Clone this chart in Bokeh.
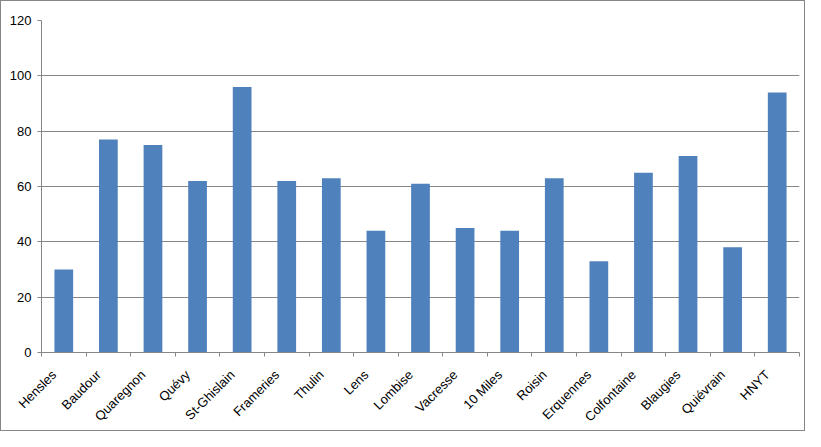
import numpy as np
from bokeh.plotting import figure
from bokeh.models import Range1d, FixedTicker, ColumnDataSource
from bokeh.embed import file_html
from bokeh.resources import INLINE

categories = ["Hensles", "Baudour", "Quaregnon", "Quévy", "St-Ghislain", "Frameries",
              "Thulin", "Lens", "Lombise", "Vacresse", "10 Miles", "Roisin",
              "Erquennes", "Colfontaine", "Blaugies", "Quiévrain", "HNYT"]
values = [30, 77, 75, 62, 96, 62, 63, 44, 61, 45, 44, 63, 33, 65, 71, 38, 94]
y_ticks = [0, 20, 40, 60, 80, 100, 120]

GRAY = "#868686"
FONT = "Liberation Sans"
LABEL_SHIFT = 0.22  # rotated labels sit slightly left of the category centre

n = len(categories)
centers = [i + 0.5 for i in range(n)]
source = ColumnDataSource(dict(x=centers, top=values, name=categories))

p = figure(width=805, height=431, output_backend="svg", toolbar_location=None,
           x_range=Range1d(0, n), y_range=Range1d(0, 120),
           min_border_left=40, min_border_right=7, min_border_top=19, min_border_bottom=80)
p.styles = {"border": "1px solid #868686", "box-sizing": "border-box"}
p.outline_line_color = None
p.background_fill_color = "white"
p.border_fill_color = "white"

p.vbar(x="x", top="top", width=0.42, source=source, color="#4F81BD", line_color=None)

# y axis
p.yaxis.ticker = FixedTicker(ticks=y_ticks)
p.yaxis.axis_line_color = GRAY
p.yaxis.major_tick_line_color = GRAY
p.yaxis.major_tick_out = 4
p.yaxis.major_tick_in = 0
p.yaxis.minor_tick_line_color = None
p.yaxis.major_label_text_font = FONT
p.yaxis.major_label_text_font_size = "13px"
p.yaxis.major_label_text_color = "black"
p.yaxis.major_label_standoff = 6
p.ygrid.grid_line_color = GRAY
p.ygrid.grid_line_width = 1
p.xgrid.grid_line_color = None

# x axis: labels near category centres, tick marks at category boundaries
label_pos = [c - LABEL_SHIFT for c in centers]
xaxis = p.xaxis[0]
xaxis.ticker = FixedTicker(ticks=label_pos, minor_ticks=list(range(n + 1)))
xaxis.major_label_overrides = {c: name for c, name in zip(label_pos, categories)}
xaxis.axis_line_color = GRAY
xaxis.major_tick_line_color = None
xaxis.major_tick_out = 0
xaxis.major_tick_in = 0
xaxis.minor_tick_line_color = GRAY
xaxis.minor_tick_out = 4
xaxis.minor_tick_in = 0
xaxis.major_label_orientation = np.pi / 4
xaxis.major_label_text_font = FONT
xaxis.major_label_text_font_size = "13px"
xaxis.major_label_text_color = "black"
xaxis.major_label_standoff = 16

open("out.html", "w").write(file_html(p, INLINE))
